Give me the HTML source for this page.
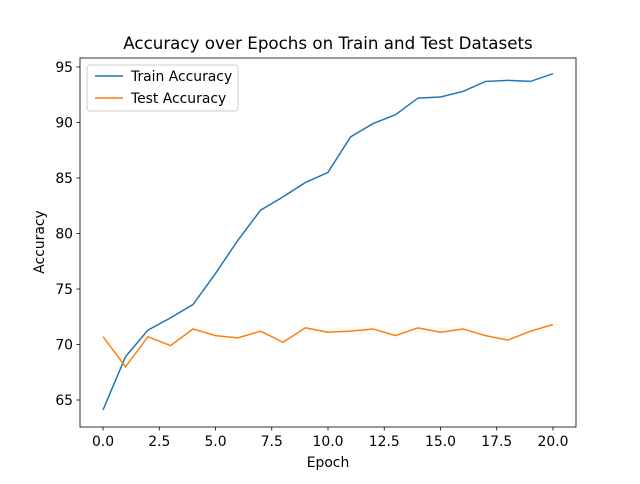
<!DOCTYPE html>
<html><head><meta charset="utf-8"><style>
body{margin:0;background:#fff;font-family:"DejaVu Sans","Liberation Sans",sans-serif;}
svg text{font-family:"DejaVu Sans","Liberation Sans",sans-serif;}
</style></head><body>
<svg id="c" width="640" height="480" viewBox="0 0 640 480" xmlns="http://www.w3.org/2000/svg">
<rect width="640" height="480" fill="#fff"/>
<text x="328" y="49" font-size="16.7" text-anchor="middle">Accuracy over Epochs on Train and Test Datasets</text>
<g id="plot"></g>
<rect x="80" y="58" width="496" height="369" fill="none" stroke="#000" stroke-width="0.8"/>
<text x="328" y="467" font-size="13.9" text-anchor="middle">Epoch</text>
<text transform="translate(44,242) rotate(-90)" font-size="13.9" text-anchor="middle">Accuracy</text>
<g>
<rect x="87" y="65" width="151" height="46" fill="#fff" fill-opacity="0.8" stroke="#ccc" rx="3"/>
<line x1="95" y1="76" x2="123" y2="76" stroke="#1f77b4" stroke-width="1.5"/>
<text x="131" y="81" font-size="13.9">Train Accuracy</text>
<line x1="95" y1="98" x2="123" y2="98" stroke="#ff7f0e" stroke-width="1.5"/>
<text x="131" y="103" font-size="13.9">Test Accuracy</text>
</g>
</svg>
<script>
const epochs=[0,1,2,3,4,5,6,7,8,9,10,11,12,13,14,15,16,17,18,19,20];
const trainAcc=[64.1,68.9,71.3,72.4,73.6,76.4,79.4,82.1,83.3,84.6,85.5,88.7,89.9,90.7,92.2,92.3,92.8,93.7,93.8,93.7,94.4];
const testAcc=[70.7,68.0,70.7,69.9,71.4,70.8,70.6,71.2,70.2,71.5,71.1,71.2,71.4,70.8,71.5,71.1,71.4,70.8,70.4,71.2,71.8];
const xTicks=[0,2.5,5,7.5,10,12.5,15,17.5,20];
const xTickLabels=["0.0","2.5","5.0","7.5","10.0","12.5","15.0","17.5","20.0"];
const yTicks=[65,70,75,80,85,90,95];
const yTickLabels=["65","70","75","80","85","90","95"];
const NS="http://www.w3.org/2000/svg";
const sx=v=>103+v*22.5;
const sy=v=>400-(v-65)*11.1;
const g=document.getElementById('plot');
function mk(t,a){const e=document.createElementNS(NS,t);for(const k in a)e.setAttribute(k,a[k]);g.appendChild(e);return e;}
xTicks.forEach((t,i)=>{
 const l=mk('line',{x1:sx(t),x2:sx(t),y1:427,y2:430.5,stroke:'#000','stroke-width':0.8});
 
 
 const tx=mk('text',{x:sx(t),y:446,'font-size':13.9,'text-anchor':'middle'});tx.textContent=xTickLabels[i];
 
 
});
yTicks.forEach((t,i)=>{
 const l=mk('line',{x1:76.5,x2:80,y1:sy(t),y2:sy(t),stroke:'#000','stroke-width':0.8});
 
 
 const tx=mk('text',{x:73,y:sy(t)+5,'font-size':13.9,'text-anchor':'end'});tx.textContent=yTickLabels[i];
 
 
});
const p1=mk('polyline',{points:epochs.map((e,i)=>sx(e)+','+sy(trainAcc[i])).join(' '),fill:'none',stroke:'#1f77b4','stroke-width':1.5});


const p2=mk('polyline',{points:epochs.map((e,i)=>sx(e)+','+sy(testAcc[i])).join(' '),fill:'none',stroke:'#ff7f0e','stroke-width':1.5});


</script>
</body></html>
